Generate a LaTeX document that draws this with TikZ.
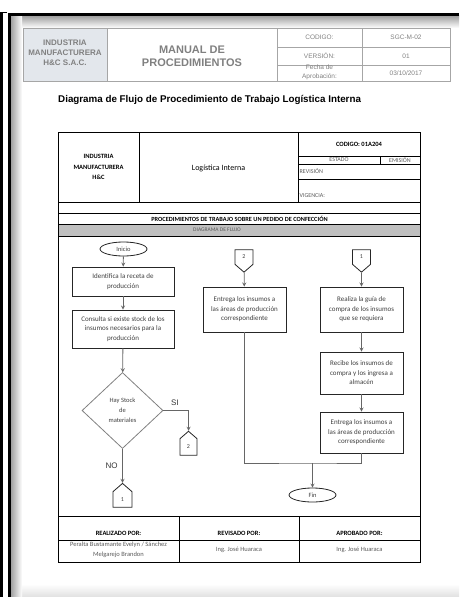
\documentclass[tikz,border=0pt]{standalone}
\usepackage{fontspec}
\setmainfont{Carlito}
\newfontfamily\arialfont{Liberation Sans}
\usepackage{xcolor}
\usepackage{tikz}
\usetikzlibrary{arrows,shapes.geometric,shapes.symbols}
\definecolor{hdrtext}{HTML}{808080}
\definecolor{hdrline}{HTML}{A6A6A6}
\definecolor{hdrfill}{HTML}{E3E7EC}
\definecolor{bandfill}{HTML}{BFBFBF}
\definecolor{flowtext}{HTML}{3F3F3F}
\definecolor{signtext}{HTML}{5A5A5A}
\tikzset{
  hdr/.style={font=\arialfont\fontsize{6.5}{8}\selectfont,text=hdrtext,align=center,inner sep=0pt},
  frm/.style={font=\fontsize{6.5}{8}\selectfont,align=center,inner sep=0pt},
  procbox/.style={draw=black!85,line width=0.9pt,align=center,font=\fontsize{7}{9.5}\selectfont,text=flowtext,inner sep=0pt},
  terminal/.style={draw=black!85,line width=0.8pt,ellipse,minimum width=47pt,minimum height=14pt,inner sep=0pt,font=\fontsize{6.5}{8}\selectfont,text=flowtext},
  decision/.style={draw=black!50,line width=0.8pt,diamond,minimum width=81pt,minimum height=76pt,inner sep=0pt,align=center,font=\fontsize{6.5}{10}\selectfont,text=flowtext},
  offpage/.style={draw=black!85,line width=0.8pt,signal,signal pointer angle=98,minimum width=18pt,minimum height=16pt,inner sep=0pt,font=\fontsize{6}{8}\selectfont,text=flowtext},
  flowline/.style={draw=black!60,line width=0.8pt},
  flowarrow/.style={flowline,-stealth},
  answer/.style={font=\arialfont\fontsize{8}{9}\selectfont,text=black!80,inner sep=0pt}
}

\begin{document}
\begin{tikzpicture}[x=1pt,y=-1pt]
  % drawing parameters
  \pgfmathsetmacro{\fl}{58}   % left edge of the form
  \pgfmathsetmacro{\fr}{420}  % right edge of the form
  \pgfmathsetmacro{\ca}{139}  % first column rule
  \pgfmathsetmacro{\cb}{298}  % second column rule
  \pgfmathsetmacro{\cc}{380}  % estado / emision rule
  \pgfmathsetmacro{\ft}{132}  % top of the form
  \pgfmathsetmacro{\fb}{516}  % bottom of the flow area
  \pgfmathsetmacro{\sb}{562}  % bottom of the signatures

  \useasboundingbox (0,0) rectangle (459,597);

  % page edge and shadow
  \fill[black] (0,12) rectangle (3,597);
  \fill[black] (0,11.5) rectangle (7,13);
  \shade[top color=white,bottom color=black!12] (10,584) rectangle (459,597);
  \shade[top color=black!40,bottom color=white] (10,15) rectangle (459,28);
  \shade[left color=black!40,right color=white] (10,15) rectangle (22,597);
  \fill[black] (8,13) rectangle (10.5,597);
  \fill[black] (8,13) rectangle (459,15.5);

  % header
  \fill[hdrfill] (23,28) rectangle (107,81);
  \draw[hdrline,line width=0.7pt] (23,28) rectangle (450,81)
    (107,28) -- (107,81) (277,28) -- (277,81) (362,28) -- (362,81)
    (277,47) -- (450,47) (277,65) -- (450,65);
  \node[hdr,font=\arialfont\bfseries\fontsize{8}{10}\selectfont] (company) at (65,53) {INDUSTRIA\\MANUFACTURERA\\H\&C S.A.C.};
  \node[hdr,font=\arialfont\bfseries\fontsize{11}{13}\selectfont] (manual) at (192,56) {MANUAL DE\\PROCEDIMIENTOS};
  \node[hdr] (codelbl) at (319.5,37.5) {CODIGO:};
  \node[hdr] (code) at (406,37.5) {SGC-M-02};
  \node[hdr] (verlbl) at (319.5,56) {VERSIÓN:};
  \node[hdr] (ver) at (406,56) {01};
  \node[hdr,font=\arialfont\fontsize{6.5}{9.5}\selectfont] (datelbl) at (319.5,72.5) {Fecha de\\Aprobación:};
  \node[hdr] (date) at (406,73) {03/10/2017};

  \node[anchor=west,inner sep=0pt,font=\arialfont\bfseries\fontsize{9.8}{11}\selectfont] (title) at (58,100) {Diagrama de Flujo de Procedimiento de Trabajo Logística Interna};

  % form
  \fill[bandfill] (\fl,224) rectangle (\fr,236);
  \draw[line width=0.9pt] (\fl,\ft) rectangle (\fr,\sb);
  \draw[line width=0.8pt] (\ca,\ft) -- (\ca,202) (\cb,\ft) -- (\cb,202)
    (\cb,156) -- (\fr,156) (\cb,164) -- (\fr,164) (\cc,156) -- (\cc,164) (\cb,179) -- (\fr,179)
    (\fl,202) -- (\fr,202) (\fl,213) -- (\fr,213) (\fl,224) -- (\fr,224) (\fl,236) -- (\fr,236);
  \node[frm,font=\bfseries\fontsize{6.5}{10.5}\selectfont] (maker) at (98.5,167) {INDUSTRIA\\MANUFACTURERA\\H\&C};
  \node[frm,font=\fontsize{8}{10}\selectfont] (area) at (218.5,168) {Logística Interna};
  \node[frm,font=\bfseries\fontsize{6.5}{8}\selectfont] (docid) at (359,144) {CODIGO: 01A204};
  \node[frm,text=signtext,font=\fontsize{6}{8}\selectfont] (state) at (339,160) {ESTADO};
  \node[frm,text=signtext,font=\fontsize{6}{8}\selectfont] (issue) at (400,160) {EMISIÓN};
  \node[frm,anchor=west,text=signtext,font=\fontsize{6}{8}\selectfont] (review) at (299.5,171.5) {REVISIÓN};
  \node[frm,anchor=west,text=signtext,font=\fontsize{6}{8}\selectfont] (valid) at (299.5,196) {VIGENCIA:};
  \node[frm,font=\bfseries\fontsize{6.3}{8}\selectfont] (purpose) at (239.5,218.5) {PROCEDIMIENTOS DE TRABAJO SOBRE UN PEDIDO DE CONFECCIÓN};
  \node[frm,text=signtext,font=\fontsize{5.5}{7}\selectfont] (band) at (217,230) {DIAGRAMA DE FLUJO};

  % left column
  \node[terminal] (start) at (123.5,249) {Inicio};
  \node[procbox,minimum width=102pt,minimum height=29pt] (recipe) at (123,281.5) {Identifica la receta de\\producción};
  \node[procbox,minimum width=102pt,minimum height=38pt] (stock) at (123,329) {Consulta si existe stock de los\\insumos necesarios para la\\producción};
  \node[decision] (check) at (122.5,410.5) {Hay Stock\\de\\materiales};
  \node[offpage,signal to=north,minimum width=17pt,minimum height=18pt] (goTwo) at (188.5,447) {2};
  \node[offpage,signal to=north,minimum width=19pt,minimum height=17pt] (goOne) at (122.5,499.5) {1};
  \node[answer] (yes) at (175,402.5) {SI};
  \node[answer] (no) at (111.5,466) {NO};

  \draw[flowarrow] (start) -- (recipe);
  \draw[flowarrow] (recipe) -- (stock);
  \draw[flowarrow] (stock) -- (check);
  \draw[flowarrow] (check.east) -| (goTwo.north);
  \draw[flowarrow] (check.south) -- (goOne.north);

  % middle and right columns
  \node[offpage,signal to=south] (fromTwo) at (244,257) {2};
  \node[offpage,signal to=south] (fromOne) at (361.5,257) {1};
  \node[procbox,minimum width=83pt,minimum height=45pt] (deliverA) at (244.5,309.5) {Entrega los insumos a\\las áreas de producción\\correspondiente};
  \node[procbox,minimum width=83pt,minimum height=45pt] (order) at (361.5,309.5) {Realiza la guía de\\compra de los insumos\\que se requiera};
  \node[procbox,minimum width=83pt,minimum height=42pt] (receive) at (361.5,373) {Recibe los insumos de\\compra y los ingresa a\\almacén};
  \node[procbox,minimum width=83pt,minimum height=41pt] (deliverB) at (361.5,432.5) {Entrega los insumos a\\las áreas de producción\\correspondiente};
  \node[terminal] (finish) at (312.5,495) {Fin};
  \coordinate (merge) at (312.5,463);

  \draw[flowarrow] (fromTwo) -- (deliverA);
  \draw[flowarrow] (fromOne) -- (order);
  \draw[flowarrow] (order) -- (receive);
  \draw[flowarrow] (receive) -- (deliverB);
  \draw[flowline] (deliverA.south) |- (merge) -| (deliverB.south);
  \draw[flowarrow] (merge) -- (finish);

  % signatures
  \draw[line width=0.9pt] (\fl,\fb) -- (\fr,\fb) (\fl,540) -- (\fr,540) (179,\fb) -- (179,\sb) (299,\fb) -- (299,\sb);
  \node[frm,font=\bfseries\fontsize{6.5}{8}\selectfont] (madeby) at (118.5,533) {REALIZADO POR:};
  \node[frm,font=\bfseries\fontsize{6.5}{8}\selectfont] (checkedby) at (239,533) {REVISADO POR:};
  \node[frm,font=\bfseries\fontsize{6.5}{8}\selectfont] (approvedby) at (359.5,533) {APROBADO POR:};
  \node[frm,text=signtext,font=\fontsize{6.5}{10.5}\selectfont] (authors) at (118.5,550) {Peralta Bustamante Evelyn / Sánchez\\Melgarejo Brandon};
  \node[frm,text=signtext] (reviewer) at (239,549.5) {Ing. José Huaraca};
  \node[frm,text=signtext] (approver) at (359.5,549.5) {Ing. José Huaraca};
\end{tikzpicture}
\end{document}
